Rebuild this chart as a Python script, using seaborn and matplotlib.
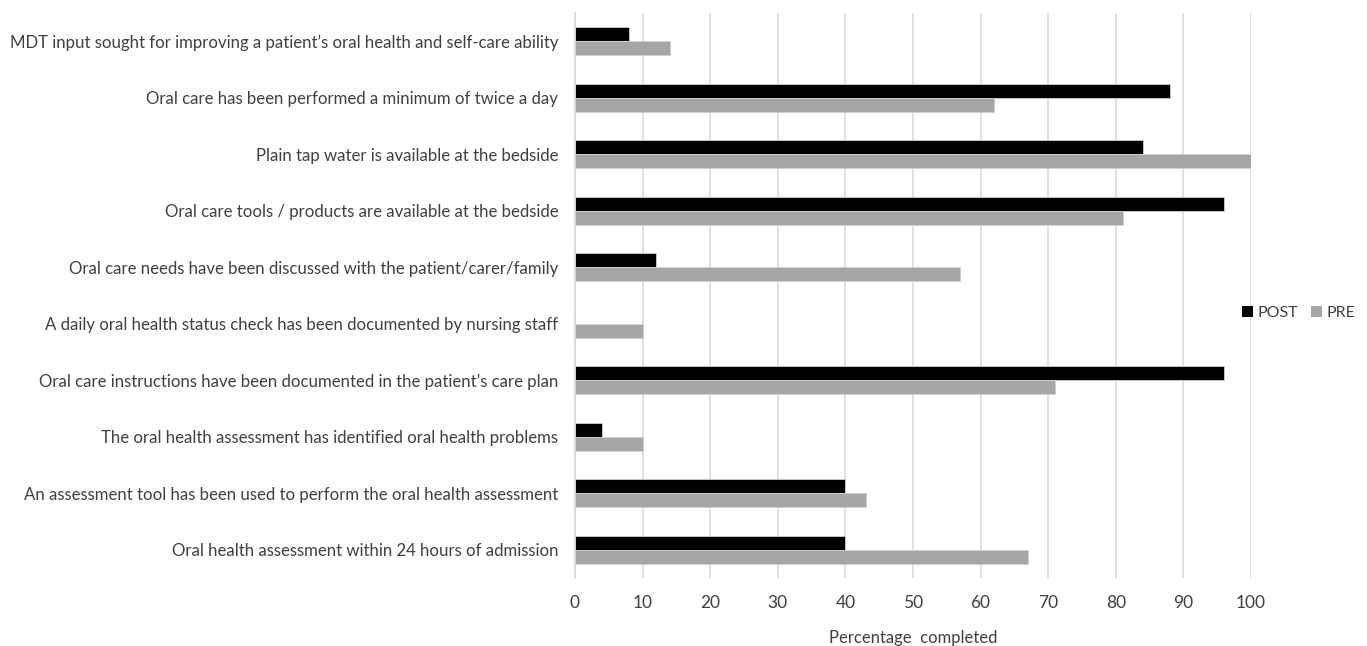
import matplotlib
matplotlib.use("Agg")
import matplotlib.pyplot as plt
import seaborn as sns
import pandas as pd
import numpy as np
from matplotlib.patches import Patch

categories = [
    "MDT input sought for improving a patient\u2019s oral health and self-care ability",
    "Oral care has been performed a minimum of twice a day",
    "Plain tap water is available at the bedside",
    "Oral care tools / products are available at the bedside",
    "Oral care needs have been discussed with the patient/carer/family",
    "A daily oral health status check has been documented by nursing staff",
    "Oral care instructions have been documented in the patient\u2019s care plan",
    "The oral health assessment has identified oral health problems",
    "An assessment tool has been used to perform the oral health assessment",
    "Oral health assessment within 24 hours of admission",
]
post_values = [8, 88, 84, 96, 12, 0, 96, 4, 40, 40]
pre_values = [14, 62, 100, 81, 57, 10, 71, 10, 43, 67]
series_names = ["POST", "PRE"]
x_ticks = list(range(0, 101, 10))

df = pd.DataFrame({
    "category": categories * 2,
    "value": post_values + pre_values,
    "series": ["POST"] * len(categories) + ["PRE"] * len(categories),
})

sns.set_theme(style="white")
plt.rcParams["font.family"] = ["Lato", "DejaVu Sans"]
text_color = "#404040"

fig = plt.figure(figsize=(13.67, 6.46), dpi=100)
ax = fig.add_axes([0.4206, 0.1053, 0.4945, 0.8747])

palette = {"POST": "#000000", "PRE": "#a6a6a6"}
sns.barplot(data=df, y="category", x="value", hue="series", hue_order=series_names,
            order=categories, palette=palette, width=0.5, orient="h", ax=ax,
            edgecolor="#d0d0d0", linewidth=0.6, saturation=1, legend=False)

ax.set_xlim(0, 100)
ax.set_ylim(len(categories) - 0.5, -0.5)
ax.set_xticks(x_ticks)
ax.set_xticklabels([str(t) for t in x_ticks], fontsize=12.5, color=text_color)
ax.tick_params(axis="x", length=0, pad=12)
ax.set_yticks(range(len(categories)))
ax.set_yticklabels(categories, fontsize=12.1, color=text_color)
ax.tick_params(axis="y", which="major", length=0, pad=12)
ax.set_yticks(np.arange(-0.5, len(categories), 1.0), minor=True)
ax.tick_params(axis="y", which="minor", length=5, color="#d9d9d9", width=1.2, direction="out")
ax.xaxis.grid(True, color="#d9d9d9", linewidth=1.2)
ax.set_axisbelow(True)
for s in ["top", "right", "bottom"]:
    ax.spines[s].set_visible(False)
ax.spines["left"].set_color("#d9d9d9")
ax.spines["left"].set_linewidth(1.2)
ax.set_ylabel("")
ax.set_xlabel("Percentage  completed", fontsize=12, color=text_color, labelpad=14)

handles = [Patch(facecolor=palette[s], edgecolor="none") for s in series_names]
fig.legend(handles, series_names, loc="center", bbox_to_anchor=(0.950, 0.515),
           ncol=2, frameon=False, fontsize=11.5, handlelength=0.7, handleheight=0.7,
           handletextpad=0.3, columnspacing=0.75, labelcolor=text_color,
           borderpad=0.2)

fig.savefig("out.png", dpi=100)
